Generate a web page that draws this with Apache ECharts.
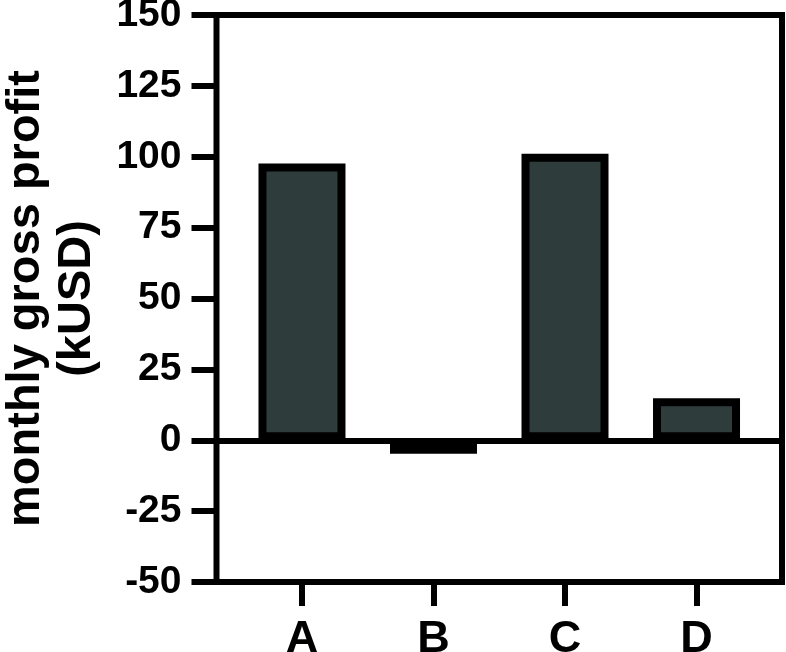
<!DOCTYPE html>
<html>
<head>
<meta charset="utf-8">
<script src="https://cdn.jsdelivr.net/npm/echarts@6/dist/echarts.min.js"></script>
<style>
html,body{margin:0;padding:0;background:#fff;}
#chart{width:786px;height:652px;}
</style>
</head>
<body>
<div id="chart"></div>
<script>
const categories = ['A', 'B', 'C', 'D'];
const profit = [97.6, -4.8, 101.1, 14.8];
const yTicks = [-50, -25, 0, 25, 50, 75, 100, 125, 150];
const yTitle = 'monthly gross profit\n(kUSD)';

const FONT = "'Liberation Sans', Arial, sans-serif";
const positions = categories.map((c, i) => i);

const chart = echarts.init(document.getElementById('chart'), null, {renderer: 'canvas'});
chart.setOption({
  animation: false,
  backgroundColor: '#fff',
  grid: {
    left: 216.5, right: 4, top: 15, bottom: 70,
    containLabel: false,
    outerBoundsMode: 'none',
    show: true, borderColor: '#000', borderWidth: 6, backgroundColor: 'transparent'
  },
  xAxis: {
    type: 'value',
    min: -0.65, max: 3.65,
    axisLine: {show: false, onZero: false},
    splitLine: {show: false},
    axisTick: {show: true, customValues: positions, length: 24, lineStyle: {color: '#000', width: 6}},
    axisLabel: {
      customValues: positions,
      formatter: v => categories[Math.round(v)],
      color: '#000', fontSize: 45, fontWeight: 'bold', fontFamily: FONT, margin: 35
    }
  },
  yAxis: {
    type: 'value',
    min: yTicks[0], max: yTicks[yTicks.length - 1], interval: 25,
    axisLine: {show: false, onZero: false},
    splitLine: {show: false},
    axisTick: {show: true, length: 25, lineStyle: {color: '#000', width: 6}},
    axisLabel: {color: '#000', fontSize: 39, fontWeight: 'bold', fontFamily: FONT, margin: 35},
    name: yTitle,
    nameLocation: 'middle',
    nameRotate: 90,
    nameGap: 114,
    nameTextStyle: {color: '#000', fontSize: 47, fontWeight: 'bold', fontFamily: FONT, lineHeight: 51, align: 'center'}
  },
  series: [{
    type: 'bar',
    data: profit.map((v, i) => [positions[i], v]),
    barWidth: 87,
    itemStyle: {color: '#2f3c3c', borderColor: '#000', borderWidth: 8},
    markLine: {
      silent: true,
      symbol: 'none',
      label: {show: false},
      lineStyle: {color: '#000', width: 6, type: 'solid'},
      data: [{yAxis: 0}]
    }
  }]
});
</script>
</body>
</html>
